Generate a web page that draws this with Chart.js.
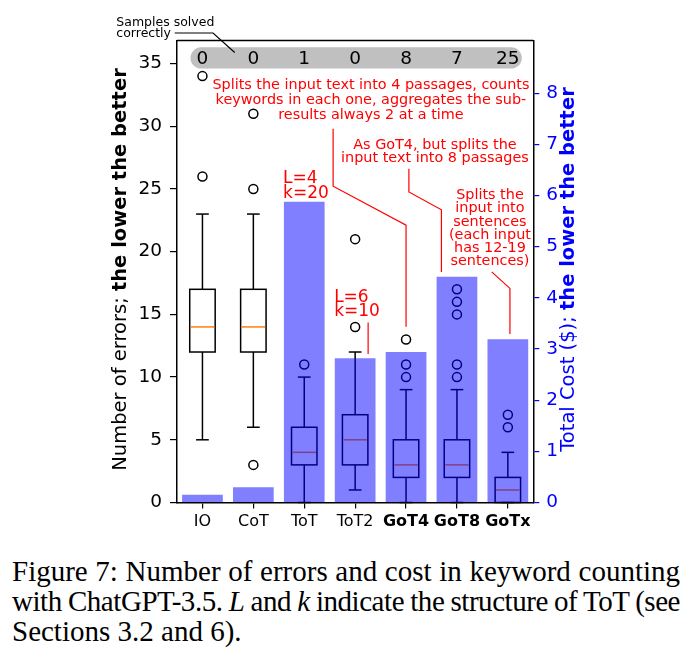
<!DOCTYPE html>
<html>
<head>
<meta charset="utf-8">
<script src="https://cdn.jsdelivr.net/npm/chart.js@4/dist/chart.umd.min.js"></script>
<style>
  html, body { margin: 0; padding: 0; background: #fff; }
  #wrap { position: relative; width: 694px; height: 656px; overflow: hidden; }
  #chart { position: absolute; left: 0; top: 0; }
  #caption { position: absolute; left: 12px; top: 556px; width: 668px;
    font: 29px 'Liberation Serif', 'Times New Roman', serif; line-height: 30px; color: #000; }
  #caption .j { text-align: justify; text-align-last: justify; white-space: nowrap; word-spacing: -3px; }
  #caption .tight { letter-spacing: -0.45px; word-spacing: -2px; }
</style>
</head>
<body>
<div id="wrap">
  <canvas id="chart" width="694" height="550"></canvas>
  <div id="caption">
    <div class="j">Figure 7: Number of errors and cost in keyword counting</div>
    <div class="j tight">with ChatGPT-3.5. <i>L</i> and <i>k</i> indicate the structure of ToT (see</div>
    <div>Sections 3.2 and 6).</div>
  </div>
</div>
<script>
// data
const categories = ['IO', 'CoT', 'ToT', 'ToT2', 'GoT4', 'GoT8', 'GoTx'];
const boldCategories = [false, false, false, false, true, true, true];
const solved = [0, 0, 1, 0, 8, 7, 25];
const cost = [0.15, 0.30, 5.88, 2.82, 2.94, 4.41, 3.19];
const whiskerLow = [5, 6, 0, 1, 0, 0, 0];
const q1 = [12, 12, 3, 3, 2, 2, 0];
const median = [14, 14, 4, 5, 3, 3, 1];
const q3 = [17, 17, 6, 7, 5, 5, 2];
const whiskerHigh = [23, 23, 10, 12, 9, 9, 4];
const outliers = [[26, 34], [3, 25, 31], [11], [14, 21], [10, 11, 13], [10, 11, 15, 16, 17], [6, 7]];
const errorTicks = [0, 5, 10, 15, 20, 25, 30, 35];
const costTicks = [0, 1, 2, 3, 4, 5, 6, 7, 8];

const FONT = "'DejaVu Sans', sans-serif";

// annotations: x in category units, y in error units
const notes = [
  { lines: ['Splits the input text into 4 passages, counts', 'keywords in each one, aggregates the sub-', 'results always 2 at a time'], x: 3.31, y: 33.25, size: 14.4, lh: 15, align: 'center', color: 'red' },
  { lines: ['As GoT4, but splits the', 'input text into 8 passages'], x: 4.567, y: 28.48, size: 14.4, lh: 13.4, align: 'center', color: 'red' },
  { lines: ['Splits the', 'input into', 'sentences', '(each input', 'has 12-19', 'sentences)'], x: 5.648, y: 24.5, size: 14.4, lh: 13.3, align: 'center', color: 'red' },
  { lines: ['L=4', 'k=20'], x: 1.584, y: 25.83, size: 17, lh: 15, align: 'left', color: 'red' },
  { lines: ['L=6', 'k=10'], x: 2.587, y: 16.32, size: 17, lh: 14, align: 'left', color: 'red' },
  { lines: ['Samples solved', 'correctly'], x: -1.692, y: 38.27, size: 12.5, lh: 11, align: 'left', color: '#000' },
];
const leaders = [
  { pts: [[2.567, 29.81], [2.567, 25.22], [4.0, 22.11], [4.0, 14.01]], color: 'red' },
  { pts: [[4.056, 26.62], [4.056, 24.76], [4.695, 23.34], [4.695, 18.39]], color: 'red' },
  { pts: [[5.682, 18.39], [6.041, 17.07], [6.041, 13.43]], color: 'red' },
  { pts: [[3.255, 14.36], [3.255, 11.84]], color: 'red' },
  { pts: [[-0.545, 37.44], [0.208, 37.44], [0.634, 35.88]], color: '#000' },
];

const outlierPoints = outliers.flatMap((vals, i) => vals.map(v => ({ x: categories[i], y: v })));

const catX = (x, f) => x.getPixelForValue(0) + f * (x.getPixelForValue(1) - x.getPixelForValue(0));

const boxPlugin = {
  id: 'boxes',
  beforeDatasetsDraw(chart) {
    const { ctx, scales: { x, y } } = chart;
    const step = x.getPixelForValue(1) - x.getPixelForValue(0);
    const line = (x1, y1, x2, y2) => { ctx.beginPath(); ctx.moveTo(x1, y1); ctx.lineTo(x2, y2); ctx.stroke(); };
    ctx.save();
    ctx.lineWidth = 1.5;
    categories.forEach((c, i) => {
      const cx = x.getPixelForValue(i);
      const hw = step * 0.25, cw = step * 0.125;
      const yLo = y.getPixelForValue(whiskerLow[i]), yHi = y.getPixelForValue(whiskerHigh[i]);
      const yQ1 = y.getPixelForValue(q1[i]), yQ3 = y.getPixelForValue(q3[i]);
      const yMed = y.getPixelForValue(median[i]);
      ctx.strokeStyle = '#000';
      line(cx, yQ3, cx, yHi);
      line(cx, yQ1, cx, yLo);
      line(cx - cw, yHi, cx + cw, yHi);
      line(cx - cw, yLo, cx + cw, yLo);
      ctx.strokeRect(cx - hw, yQ3, 2 * hw, yQ1 - yQ3);
      ctx.strokeStyle = '#ff7f0e';
      line(cx - hw + 1, yMed, cx + hw - 1, yMed);
    });
    ctx.restore();
  }
};

function drawMixed(ctx, parts, cx, cy, color) {
  ctx.save();
  ctx.translate(cx, cy);
  ctx.rotate(-Math.PI / 2);
  let total = 0;
  parts.forEach(p => { ctx.font = p.font; p.w = ctx.measureText(p.text).width; total += p.w; });
  let xx = -total / 2;
  ctx.textBaseline = 'middle';
  ctx.textAlign = 'left';
  ctx.fillStyle = color;
  parts.forEach(p => { ctx.font = p.font; ctx.fillText(p.text, xx, 0); xx += p.w; });
  ctx.restore();
}

const decorPlugin = {
  id: 'decor',
  afterDraw(chart) {
    const { ctx, chartArea: a, scales: { x, y } } = chart;
    ctx.save();
    // top spine
    ctx.strokeStyle = '#000';
    ctx.lineWidth = 1.5;
    ctx.beginPath(); ctx.moveTo(a.left, a.top); ctx.lineTo(a.right, a.top); ctx.stroke();

    // samples solved pill
    const pl = x.getPixelForValue(0) - 12, pr = x.getPixelForValue(categories.length - 1) + 14;
    const pt = y.getPixelForValue(36.3), pb = y.getPixelForValue(34.6);
    ctx.fillStyle = '#c0c0c0';
    ctx.beginPath();
    ctx.roundRect(pl, pt, pr - pl, pb - pt, (pb - pt) / 2);
    ctx.fill();
    ctx.fillStyle = '#000';
    ctx.font = `18.5px ${FONT}`;
    ctx.textAlign = 'center';
    ctx.textBaseline = 'middle';
    solved.forEach((s, i) => ctx.fillText(String(s), x.getPixelForValue(i), y.getPixelForValue(35.35)));

    // leader lines
    ctx.lineWidth = 1.2;
    leaders.forEach(l => {
      ctx.strokeStyle = l.color;
      ctx.beginPath();
      l.pts.forEach(([fx, fy], k) => {
        const px = catX(x, fx), py = y.getPixelForValue(fy);
        k ? ctx.lineTo(px, py) : ctx.moveTo(px, py);
      });
      ctx.stroke();
    });

    // annotation text
    notes.forEach(n => {
      ctx.fillStyle = n.color;
      ctx.font = `${n.size}px ${FONT}`;
      ctx.textAlign = n.align;
      ctx.textBaseline = 'middle';
      const px = catX(x, n.x), py = y.getPixelForValue(n.y);
      n.lines.forEach((t, k) => ctx.fillText(t, px, py + k * n.lh));
    });
    ctx.restore();

    // axis titles
    const midY = (a.top + a.bottom) / 2 - 2;
    drawMixed(ctx, [
      { text: 'Number of errors; ', font: `19.5px ${FONT}` },
      { text: 'the lower the better', font: `bold 19.5px ${FONT}` }
    ], a.left - 56, midY, '#000');
    drawMixed(ctx, [
      { text: 'Total Cost ($); ', font: `19.5px ${FONT}` },
      { text: 'the lower the better', font: `bold 19.5px ${FONT}` }
    ], a.right + 36, midY, 'blue');
  }
};

new Chart(document.getElementById('chart'), {
  type: 'bar',
  data: {
    labels: categories,
    datasets: [
      {
        label: 'Total Cost',
        data: cost,
        yAxisID: 'y1',
        backgroundColor: 'rgba(0, 0, 255, 0.5)',
        borderWidth: 0,
        barPercentage: 0.8,
        categoryPercentage: 1.0,
        order: 0,
      },
      {
        type: 'line',
        label: 'Outliers',
        data: outlierPoints,
        yAxisID: 'y',
        showLine: false,
        pointStyle: 'circle',
        pointRadius: 4.5,
        pointBorderWidth: 1.5,
        pointBackgroundColor: 'rgba(0, 0, 0, 0)',
        pointBorderColor: '#000',
        order: 1,
      },
    ],
  },
  options: {
    responsive: false,
    animation: false,
    devicePixelRatio: 1,
    layout: { padding: { top: 40.5, left: 0, right: 0, bottom: 0 } },
    plugins: {
      legend: { display: false },
      tooltip: { enabled: false },
    },
    scales: {
      x: {
        offset: true,
        grid: { offset: false, drawOnChartArea: false, drawTicks: true, tickLength: 6, color: '#000', lineWidth: 1.2 },
        border: { display: true, color: '#000', width: 1.5 },
        ticks: {
          color: '#000',
          padding: 4,
          maxRotation: 0,
          font: (c) => ({ family: FONT, size: 16, weight: boldCategories[c.index] ? 'bold' : 'normal' }),
        },
        afterFit: (s) => { s.height = 47.5; },
      },
      y: {
        position: 'left',
        min: 0,
        max: 36.84,
        afterBuildTicks: (s) => { s.ticks = errorTicks.map(v => ({ value: v })); },
        grid: { drawOnChartArea: false, drawTicks: true, tickLength: 7, color: '#000', lineWidth: 1.2 },
        border: { display: true, color: '#000', width: 1.5 },
        ticks: { color: '#000', padding: 8, font: { family: FONT, size: 18.5 } },
        afterFit: (s) => { s.width = 177; },
      },
      y1: {
        position: 'right',
        min: 0,
        max: 9.03,
        afterBuildTicks: (s) => { s.ticks = costTicks.map(v => ({ value: v })); },
        grid: { drawOnChartArea: false, drawTicks: true, tickLength: 6, color: 'blue', lineWidth: 1.2 },
        border: { display: true, color: '#000', width: 1.5 },
        ticks: { color: 'blue', padding: 7, font: { family: FONT, size: 18.5 } },
        afterFit: (s) => { s.width = 160.7; },
      },
    },
  },
  plugins: [boxPlugin, decorPlugin],
});
</script>
</body>
</html>
